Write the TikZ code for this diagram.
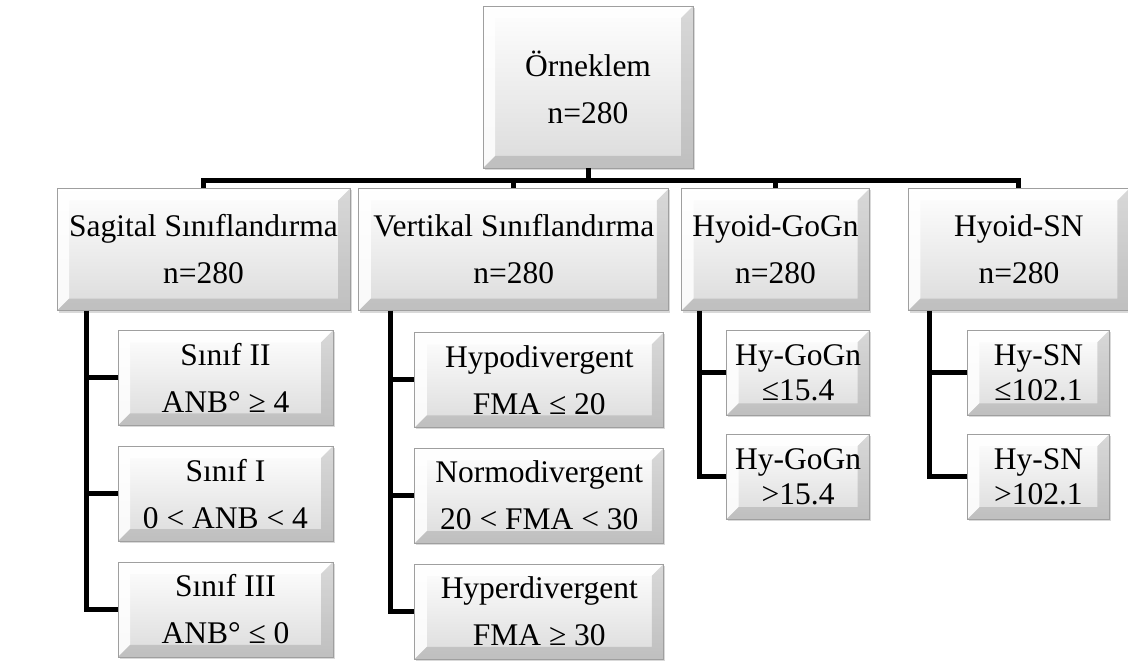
\documentclass[tikz,border=0pt]{standalone}
\usepackage{fontspec}
\setmainfont{Liberation Serif}
\usetikzlibrary{positioning, shadows}

\begin{document}
\begin{tikzpicture}[bevel box/.style={draw=gray!75,top color=white,bottom color=gray!28,align=center,inner sep=2pt,
	font=\fontsize{15.75}{23.5}\selectfont,
	drop shadow={opacity=.3,shadow xshift=.8pt,shadow yshift=-1pt},
	path picture={
		\path (path picture bounding box.south west) coordinate (pa)
		(path picture bounding box.north east) coordinate (pb);
		\fill[white,opacity=.85] (pa) -- ++(6pt,6pt) |- ([shift={(-6pt,-6pt)}]pb) -- (pb) -| (pa) -- cycle;
		\fill[gray,opacity=.3] (pa) -- ++(6pt,6pt) -| ([shift={(-6pt,-6pt)}]pb) -- (pb) |- (pa) -- cycle;}},
	root node/.style={bevel box,minimum width=105pt,minimum height=81pt},
	main node/.style={bevel box,minimum width=#1,minimum height=61pt},
	sub node/.style={bevel box,minimum width=#1,minimum height=47.5pt},
	hy node/.style={bevel box,minimum width=#1,minimum height=42.5pt,font=\fontsize{15.75}{17.5}\selectfont},
	link/.style={line width=2.5pt},node distance=10pt]
	\useasboundingbox (0,0) rectangle (564pt,-334pt);
	
	\node[root node] (root) at (294pt,-43.5pt) {Örneklem\\n=280};
	
	\node[main node=146.5pt] (sag) at (101.75pt,-124.75pt) {Sagital Sınıflandırma\\n=280};
	\node[main node=155pt] (ver) [right=4pt of sag] {Vertikal Sınıflandırma\\n=280};
	\node[main node=94pt] (gogn) [right=6pt of ver] {Hyoid-GoGn\\n=280};
	\node[main node=110.5pt] (sn) [right=19pt of gogn] {Hyoid-SN\\n=280};
	
	% sagital
	\node[sub node=107.5pt] (s2) [below right=9.5pt and 30.5pt of sag.south west] {Sınıf II\\ANB° ≥ 4};
	\node[sub node=107.5pt] (s1) [below=of s2] {Sınıf I\\0 < ANB < 4};
	\node[sub node=107.5pt] (s3) [below=of s1] {Sınıf III\\ANB° ≤ 0};
	
	% vertikal
	\node[sub node=124.5pt] (hypo) [below right=10.5pt and 28pt of ver.south west] {Hypodivergent\\FMA ≤ 20};
	\node[sub node=124.5pt] (normo) [below=of hypo] {Normodivergent\\20 < FMA < 30};
	\node[sub node=124.5pt] (hyper) [below=of normo] {Hyperdivergent\\FMA ≥ 30};
	
	% hyoid
	\node[hy node=71.5pt] (g1) [below right=9.5pt and 22.5pt of gogn.south west] {Hy-GoGn\\≤15.4};
	\node[hy node=71.5pt] (g2) [below=9pt of g1] {Hy-GoGn\\>15.4};
	\node[hy node=71pt] (n1) [below right=9.5pt and 29.5pt of sn.south west] {Hy-SN\\≤102.1};
	\node[hy node=71pt] (n2) [below=9pt of n1] {Hy-SN\\>102.1};
	
	\draw[link] (root.south) -- ++(0,-6pt) coordinate (hub);
	\foreach \n in {sag,ver,gogn,sn}
	\draw[link] (hub) -| (\n.north);
	
	\foreach \c in {s2,s1,s3}
	\draw[link] ([xshift=15pt]sag.south west) |- (\c.west);
	\foreach \c in {hypo,normo,hyper}
	\draw[link] ([xshift=16pt]ver.south west) |- (\c.west);
	\foreach \c in {g1,g2}
	\draw[link] ([xshift=9pt]gogn.south west) |- (\c.west);
	\foreach \c in {n1,n2}
	\draw[link] ([xshift=10.5pt]sn.south west) |- (\c.west);
\end{tikzpicture}
\end{document}
